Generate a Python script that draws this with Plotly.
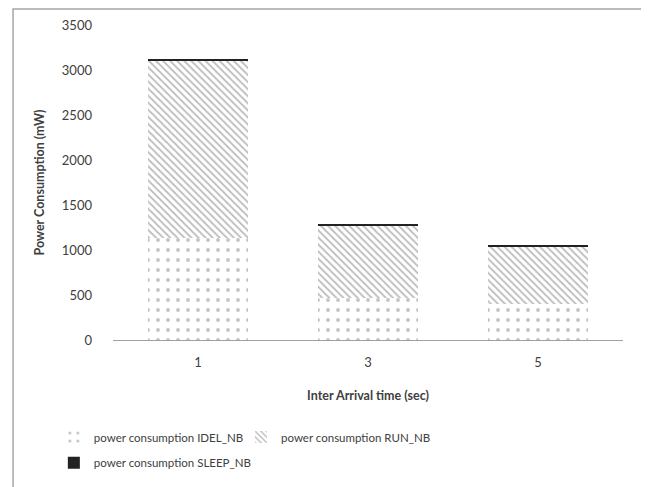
import plotly.graph_objects as go

categories = ["1", "3", "5"]
idle_nb = [1130, 470, 400]
run_nb = [1975, 800, 640]
sleep_nb = [20, 18, 18]
y_ticks = [0, 500, 1000, 1500, 2000, 2500, 3000, 3500]

font_family = "Lato, 'Open Sans', sans-serif"
text_color = "#404040"

fig = go.Figure()
fig.add_trace(go.Bar(
    x=categories, y=idle_nb, name="power consumption IDEL_NB",
    marker=dict(color="white", line=dict(width=0),
                pattern=dict(shape=".", fgcolor="#8a8a8a", bgcolor="white", size=10, solidity=0.12)),
    legend="legend",
))
fig.add_trace(go.Bar(
    x=categories, y=run_nb, name="power consumption RUN_NB",
    marker=dict(color="white", line=dict(width=0),
                pattern=dict(shape="\\", fgcolor="#7a7a7a", bgcolor="white", size=5, solidity=0.35)),
    legend="legend2",
))
fig.add_trace(go.Bar(
    x=categories, y=sleep_nb, name="power consumption SLEEP_NB",
    marker=dict(color="#222222", line=dict(width=0)),
    legend="legend3",
))

legend_common = dict(orientation="h", xanchor="left", yanchor="top",
                     font=dict(size=11.5, color=text_color), traceorder="normal",
                     itemwidth=30, bgcolor="rgba(0,0,0,0)")

fig.update_layout(
    barmode="stack",
    bargap=0.41,
    width=641, height=479,
    margin=dict(l=105, r=26, t=17, b=147, autoexpand=False),
    paper_bgcolor="white", plot_bgcolor="white",
    font=dict(family=font_family, size=12, color=text_color),
    showlegend=True,
    legend=dict(x=-0.116, y=-0.262, **legend_common),
    legend2=dict(x=0.251, y=-0.262, **legend_common),
    legend3=dict(x=-0.116, y=-0.344, **legend_common),
    xaxis=dict(
        title=dict(text="<b>Inter Arrival time (sec)</b>", font=dict(size=12.5, color=text_color), standoff=22),
        showline=True, linecolor="#a0a0a0", linewidth=1, ticks="", showgrid=False,
        tickfont=dict(size=13, color=text_color), automargin=False, ticklabelstandoff=10,
    ),
    yaxis=dict(
        title=dict(text="<b>Power Consumption (mW)</b>", font=dict(size=12.5, color=text_color), standoff=14),
        range=[0, 3500], tickvals=y_ticks, showgrid=False, showline=False, zeroline=False,
        tickfont=dict(size=13, color=text_color), ticks="", automargin=False, ticklabelstandoff=20,
    ),
    shapes=[dict(type="rect", xref="paper", yref="paper",
                 x0=-0.196, x1=1.045, y0=-0.6, y1=1.051,
                 line=dict(color="#a6a6a6", width=1.5), fillcolor="rgba(0,0,0,0)", layer="below")],
)

fig.write_html("out.html")
